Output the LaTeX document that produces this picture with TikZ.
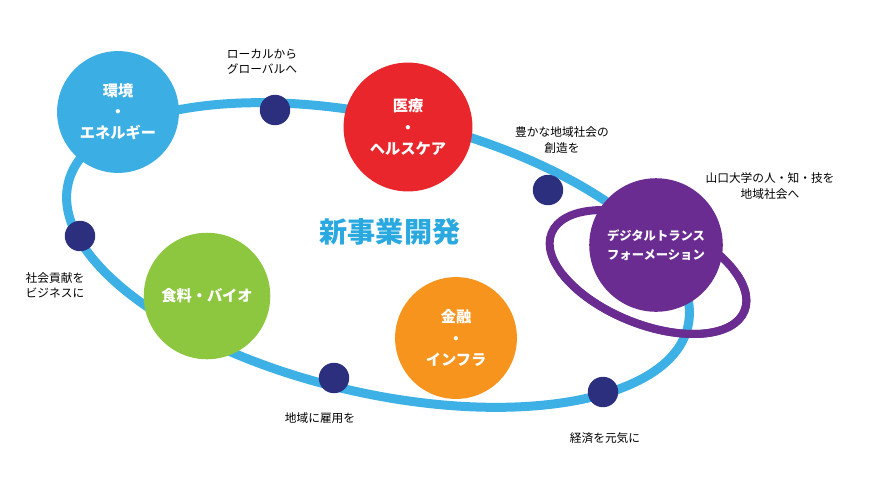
\documentclass[tikz,border=0pt]{standalone}
\usepackage{fontspec}
\setmainfont{Noto Sans CJK JP}
\definecolor{ringblue}{HTML}{3DB1E6}
\definecolor{dotnavy}{HTML}{2B2F7E}
\definecolor{envblue}{HTML}{3BAEE3}
\definecolor{medred}{HTML}{E8262C}
\definecolor{dxpurple}{HTML}{6A2C91}
\definecolor{foodgreen}{HTML}{8DC63F}
\definecolor{finorange}{HTML}{F7941D}
\definecolor{titleblue}{HTML}{29A9E0}
\tikzset{
  ball/.style={circle, minimum size=#1, inner sep=0pt, text=white, align=center, font=\fontsize{13}{18}\selectfont\bfseries},
  dot/.style={circle, fill=dotnavy, minimum size=26, inner sep=0pt},
  lbl/.style={align=center, font=\fontsize{10}{13}\selectfont},
  dxring/.style={dxpurple, line width=8*0.03cm, rotate around={-22:(648,272)}}
}
\begin{document}
\begin{tikzpicture}[x=0.03cm, y=-0.03cm]
\useasboundingbox (0,0) rectangle (873,491);

% orbit
\draw[ringblue, line width=9*0.03cm, rotate around={-13:(378,255)}] (378,255) ellipse [x radius=318, y radius=138];

% small dots
\node[dot] (d1) at (275,110) {};
\node[dot] (d2) at (548,190) {};
\node[dot] (d3) at (80,236) {};
\node[dot] (d4) at (334,378) {};
\node[dot] (d5) at (603,392) {};

% fields
\node[ball=104, fill=envblue] (env) at (118,112) {環境\\・\\エネルギー};
\node[ball=110, fill=medred] (med) at (408,127) {医療\\・\\ヘルスケア};
\node[ball=108, fill=foodgreen] (food) at (207,296) {食料・バイオ};
\node[ball=104, fill=finorange] (fin) at (456,338) {金融\\・\\インフラ};
\draw[dxring] (648,272) ellipse [x radius=104, y radius=52];
\node[ball=114, fill=dxpurple, font=\fontsize{10.5}{16}\selectfont\bfseries] (dx) at (656,245) {デジタルトランス\\フォーメーション};
\begin{scope}
  \clip (540,272) rectangle (780,360);
  \draw[dxring] (648,272) ellipse [x radius=104, y radius=52];
\end{scope}

% labels
\node[lbl] (l1) at (262,62) {ローカルから\\グローバルへ};
\node[lbl] (l2) at (562,140) {豊かな地域社会の\\創造を};
\node[lbl] (l3) at (770,186) {山口大学の人・知・技を\\地域社会へ};
\node[lbl] (l4) at (55,285) {社会貢献を\\ビジネスに};
\node[lbl] (l5) at (320,418) {地域に雇用を};
\node[lbl] (l6) at (605,438) {経済を元気に};
\node[text=titleblue, font=\fontsize{24}{28}\selectfont\bfseries] (title) at (390,232) {新事業開発};
\end{tikzpicture}
\end{document}
